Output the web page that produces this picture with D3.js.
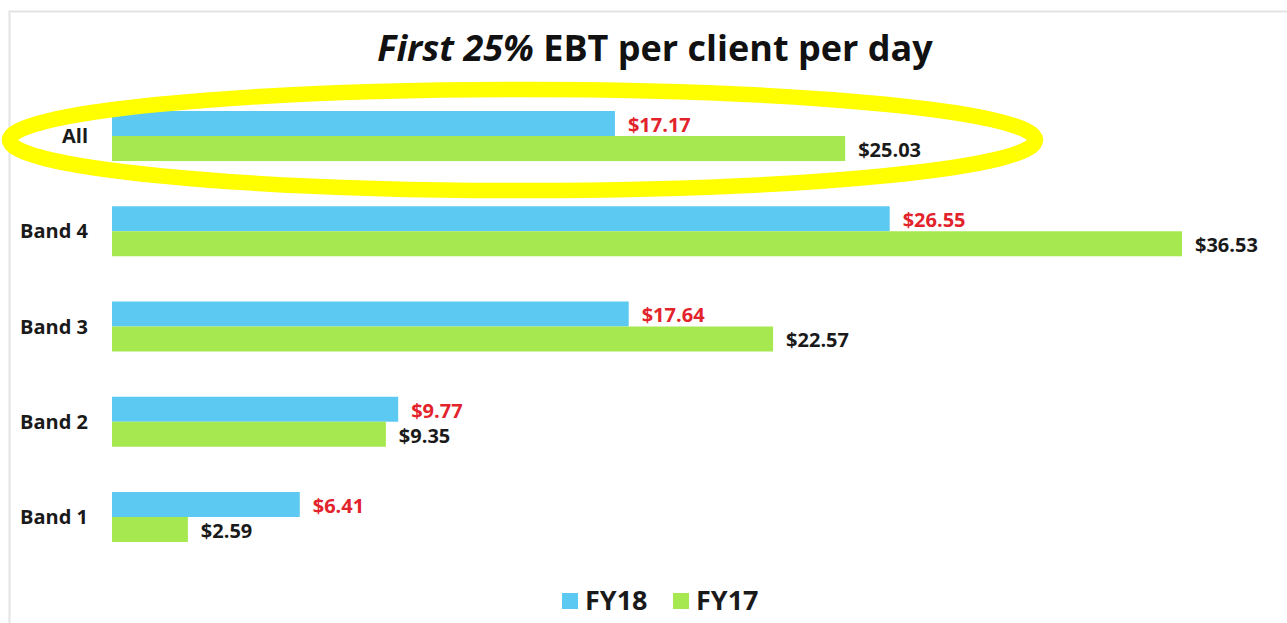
<!DOCTYPE html>
<html>
<head>
<meta charset="utf-8">
<script src="https://cdn.jsdelivr.net/npm/d3@7"></script>
<style>
    body { margin: 0; background: #fff; }
    svg { display: block; font-family: "Open Sans", sans-serif; }
</style>
</head>
<body>
<div id="chart"></div>
<script>
// First 25% EBT per client per day - grouped horizontal bars

const categories = ["All", "Band 4", "Band 3", "Band 2", "Band 1"];
const series = ["FY18", "FY17"];
const fy18 = [17.17, 26.55, 17.64, 9.77, 6.41];
const fy17 = [25.03, 36.53, 22.57, 9.35, 2.59];
const highlighted = ["All"];

let width = 1287, height = 623;
let colors = {FY18: "#5bc9f1", FY17: "#a6e84f"};
let labelColors = {FY18: "#e3232b", FY17: "#1a1a1a"};

let svg = d3.select("#chart").append("svg")
    .attr("width", width)
    .attr("height", height);

main();

function main() {
    let rows = categories.map((c, i) => ({category: c, FY18: fy18[i], FY17: fy17[i]}));

    // x: value -> pixel, bars start at 112
    let x = d3.scaleLinear()
        .domain([0, 36.53])
        .range([112, 1182]);

    let y = d3.scaleBand()
        .domain(categories)
        .range([88.4, 564.6])
        .paddingInner(0.475)
        .paddingOuter(0.2375);

    let ySub = d3.scaleBand()
        .domain(series)
        .range([0, y.bandwidth()]);

    draw_frame();
    draw_title();

    let groups = svg.append("g")
        .attr("class", "groups")
        .selectAll("g")
        .data(rows)
        .enter().append("g")
        .attr("transform", d => "translate(0," + y(d.category) + ")");

    groups.selectAll("rect")
        .data(d => series.map(s => ({key: s, value: d[s]})))
        .enter().append("rect")
        .attr("x", x(0))
        .attr("y", d => ySub(d.key))
        .attr("width", d => x(d.value) - x(0))
        .attr("height", ySub.bandwidth())
        .attr("fill", d => colors[d.key]);

    groups.selectAll("text.value")
        .data(d => series.map(s => ({key: s, value: d[s]})))
        .enter().append("text")
        .attr("class", "value")
        .attr("x", d => x(d.value) + 13)
        .attr("y", d => ySub(d.key) + ySub.bandwidth() / 2 + 8.5)
        .attr("font-size", 20)
        .attr("font-weight", 700)
        .attr("fill", d => labelColors[d.key])
        .text(d => "$" + d.value.toFixed(2));

    // category labels, right aligned at the bar start
    svg.append("g")
        .attr("class", "cats")
        .selectAll("text")
        .data(categories)
        .enter().append("text")
        .attr("x", 88)
        .attr("y", d => y(d) + y.bandwidth() / 2 + 7)
        .attr("text-anchor", "end")
        .attr("font-size", 20)
        .attr("font-weight", 700)
        .attr("fill", "#1a1a1a")
        .text(d => d);

    // yellow highlight ring around the "All" group
    svg.append("g")
        .selectAll("ellipse")
        .data(highlighted)
        .enter().append("ellipse")
        .attr("cx", 522.5)
        .attr("cy", d => y(d) + y.bandwidth() / 2 + 4)
        .attr("rx", 513)
        .attr("ry", 50.5)
        .attr("fill", "none")
        .attr("stroke", "#ffff00")
        .attr("stroke-width", 15.5);

    draw_legend();
}

function draw_frame() {
    svg.append("path")
        .attr("d", "M9.5," + height + "V11.5H" + width)
        .attr("fill", "none")
        .attr("stroke", "#e3e3e3")
        .attr("stroke-width", 2);
}

function draw_title() {
    let title = svg.append("text")
        .attr("x", 655)
        .attr("y", 61)
        .attr("text-anchor", "middle")
        .attr("font-size", 36)
        .attr("font-weight", 700)
        .attr("fill", "#111");
    title.append("tspan").attr("font-style", "italic").text("First 25%");
    title.append("tspan").text(" EBT per client per day");

    // squeeze to the narrow width of the original face
    let w = title.node().getComputedTextLength();
    if (w > 560) {
        title.attr("textLength", 560).attr("lengthAdjust", "spacingAndGlyphs");
    }
}

function draw_legend() {
    let legend = svg.append("g")
        .attr("class", "legend")
        .selectAll("g")
        .data(series)
        .enter().append("g")
        .attr("transform", (d, i) => "translate(" + (562 + i * 111) + ",593)");

    legend.append("rect")
        .attr("width", 16)
        .attr("height", 16)
        .attr("fill", d => colors[d]);

    legend.append("text")
        .attr("x", 23)
        .attr("y", 17)
        .attr("font-size", 27)
        .attr("font-weight", 700)
        .attr("fill", "#1a1a1a")
        .text(d => d);
}
</script>
</body>
</html>
